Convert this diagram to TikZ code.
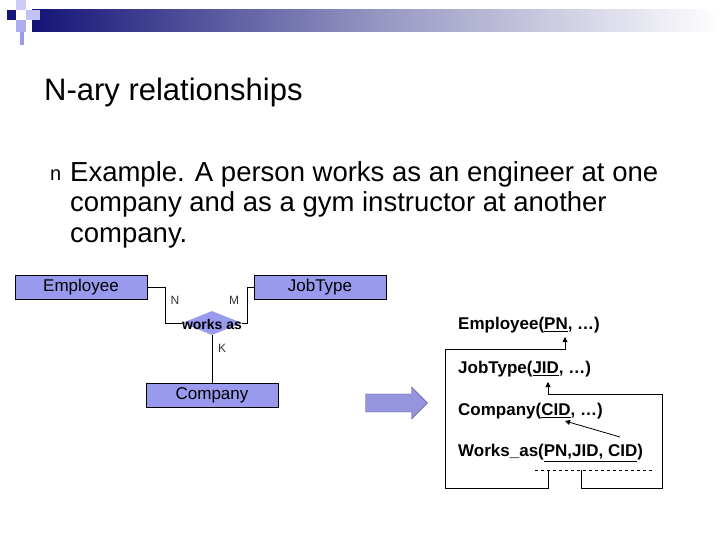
\documentclass[tikz,border=0pt]{standalone}
\usepackage{fontspec}
\setmainfont{Liberation Sans}
\usetikzlibrary{shapes.geometric,shapes.arrows,arrows.meta}
\definecolor{boxblue}{RGB}{153,153,238}
\definecolor{navy}{RGB}{20,20,120}
\begin{document}
\begin{tikzpicture}[x=1pt,y=-1pt,
  ent/.style={draw=black,fill=boxblue,minimum width=132pt,minimum height=24pt,inner sep=0pt,font=\fontsize{17}{20}\selectfont},
  lab/.style={font=\fontsize{12}{14}\selectfont,text=black!80},
  rel/.style={font=\bfseries\fontsize{17}{20}\selectfont,anchor=west,inner sep=0pt},
  con/.style={draw=black,line width=0.8pt},
  arr/.style={con,-{Triangle[length=5pt,width=5pt]}}]
\useasboundingbox (0,0) rectangle (720,540);
\fill[white] (0,0) rectangle (720,540);
% header
\shade[left color=navy,right color=white,middle color=navy!45!white] (32,10) rectangle (720,32);
\fill[navy] (7,10) rectangle (16,20);
\fill[boxblue!50] (16,0) rectangle (26,10);
\fill[boxblue!60] (26,10) rectangle (40,20);
\fill[boxblue!80] (16,20) rectangle (26,32);
\fill[boxblue] (20,32) rectangle (24,45);
\node[anchor=west,inner sep=0pt,font=\fontsize{31}{36}\selectfont] (title) at (44,92) {N-ary relationships};
\node[anchor=west,inner sep=0pt,font=\fontsize{20}{24}\selectfont] (bullet) at (50,175) {n};
\node[anchor=north west,align=left,inner sep=0pt,font=\fontsize{27.5}{30.5}\selectfont] (text) at (70,161) {Example. A person works as an engineer at one\\company and as a gym instructor at another\\company.};
% ER diagram
\node[ent] (emp) at (81,287) {Employee};
\node[ent] (job) at (320,287) {JobType};
\node[ent] (comp) at (212,395) {Company};
\node[diamond,fill=boxblue,aspect=2.5,minimum width=60pt,minimum height=24pt,inner sep=0pt] (dia) at (212,323) {};
\node[font=\bfseries\fontsize{14}{16}\selectfont] (works) at (212,324) {works as};
\draw[con] (emp.east) -| (165,323) -- (dia.west);
\draw[con] (job.west) -| (247,323) -- (dia.east);
\draw[con] (dia.south) -- (comp.north);
\node[lab] (N) at (175,300) {N};
\node[lab] (M) at (234,300) {M};
\node[lab] (K) at (222,348) {K};
% big arrow
\node[single arrow,draw=boxblue!60!black,fill=boxblue!85!gray,minimum height=62pt,minimum width=32pt,single arrow head extend=4pt,inner sep=5pt] (big) at (392,403) {};
% relations
\node[rel] (r1) at (458,325) {Employee(\underline{PN}, …)};
\node[rel] (r2) at (458,369) {JobType(\underline{JID}, …)};
\node[rel] (r3) at (458,411) {Company(\underline{CID}, …)};
\node[rel] (r4) at (458,453) {Works\_as(\underline{PN,JID, CID})};
\coordinate (a1) at (565,337);
\coordinate (a2) at (548,382);
\coordinate (a3) at (565,421);
\coordinate (b3) at (620,437);
\draw[arr] (548,470) |- (445,488) -- (445,349) -| (a1);
\draw[arr] (581,470) |- (662,488) -- (662,394) -| (a2);
\draw[arr] (b3) -- (a3);
\draw[dashed,line width=0.6pt] (535,470) -- (655,470);
\end{tikzpicture}
\end{document}
